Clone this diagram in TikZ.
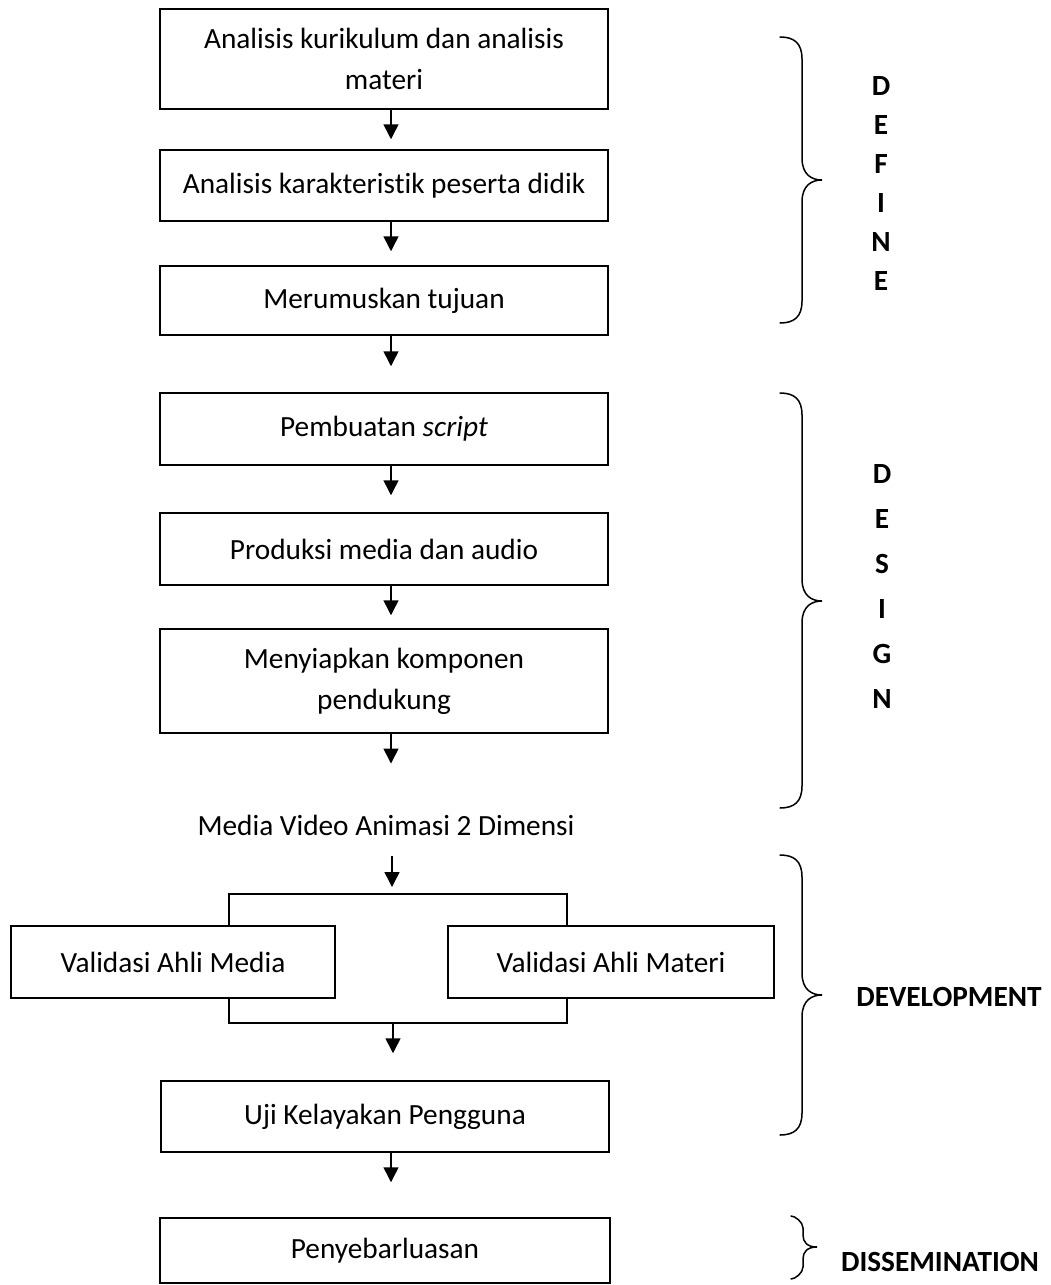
\documentclass[tikz,border=0pt]{standalone}
\usepackage{fontspec}
\setmainfont{Carlito}[Ligatures={TeX,NoCommon}]
\usetikzlibrary{arrows.meta}
\newcommand\mybrace[7]{%
  \draw[bracestyle] (#1,#4) .. controls (#2-8,#4) and (#2,#4+6) .. (#2,#4+#7)
    -- (#2,#5-#7) .. controls (#2,#5-5) and (#3-10,#5) .. (#3,#5)
    .. controls (#3-10,#5) and (#2,#5+5) .. (#2,#5+#7)
    -- (#2,#6-#7) .. controls (#2,#6-6) and (#2-8,#6) .. (#1,#6);}
\begin{document}
\begin{tikzpicture}[x=1pt,y=-1pt,
  txt/.style={font=\fontsize{29.3}{41}\selectfont},
  box/.style={txt,draw,line width=1.5pt,minimum width=448pt,inner sep=0pt,align=center},
  conn/.style={line width=1.5pt},
  arr/.style={conn,-{Triangle[width=15pt,length=15pt]}},
  bracestyle/.style={line width=1.5pt,line cap=round},
  phase/.style={font=\fontsize{29.3}{35}\selectfont\bfseries,inner sep=0pt}]
\useasboundingbox (0,0) rectangle (1051,1285);
% boxes
\node[box,minimum height=100pt] (b1) at (384,59) {Analisis kurikulum dan analisis\\materi};
\node[box,minimum height=71pt] (b2) at (384,185.5) {Analisis karakteristik peserta didik};
\node[box,minimum height=69pt] (b3) at (384,300.5) {Merumuskan tujuan};
\node[box,minimum height=72pt] (b4) at (384,429) {Pembuatan \textit{script}};
\node[box,minimum height=72pt] (b5) at (384,549) {Produksi media dan audio};
\node[box,minimum height=104pt] (b6) at (384,681) {Menyiapkan komponen\\pendukung};
\node[txt,inner sep=0pt] (mv) at (386,825) {Media Video Animasi 2 Dimensi};
\node[box,minimum width=324pt,minimum height=72pt] (vl) at (173,962) {Validasi Ahli Media};
\node[box,minimum width=326pt,minimum height=72pt] (vr) at (611,962) {Validasi Ahli Materi};
\node[box,minimum width=448pt,minimum height=71pt] (uji) at (385,1116.5) {Uji Kelayakan Pengguna};
\node[box,minimum width=450pt,minimum height=65pt] (pen) at (385,1250.5) {Penyebarluasan};
% connectors
\coordinate (ax) at (391,0);
\draw[arr,shorten >=10pt] (b1.south -| ax) -- (b2.north -| ax);
\draw[arr,shorten >=14pt] (b2.south -| ax) -- (b3.north -| ax);
\draw[arr,shorten >=26pt] (b3.south -| ax) -- (b4.north -| ax);
\draw[arr,shorten >=17pt] (b4.south -| ax) -- (b5.north -| ax);
\draw[arr,shorten >=13pt] (b5.south -| ax) -- (b6.north -| ax);
\draw[arr,shorten >=51pt] (b6.south -| ax) -- (mv.north -| ax);
\coordinate (jt) at (392,894);
\draw[arr,shorten <=21pt,shorten >=7pt] (mv.south -| jt) -- (jt);
\coordinate (fl) at (229,894);
\coordinate (fr) at (567,894);
\draw[conn] (vl.north -| fl) -- (fl) -- (fr) -- (vr.north -| fr);
\coordinate (gl) at (229,1023);
\coordinate (gr) at (567,1023);
\draw[conn] (vl.south -| gl) -- (gl) -- (gr) -- (vr.south -| gr);
\coordinate (jb) at (393,1023);
\draw[arr,shorten >=27pt] (jb) -- (uji.north -| jb);
\draw[arr,shorten >=35pt] (uji.south -| ax) -- (pen.north -| ax);
% braces
\mybrace{780}{802}{822}{37}{180}{323}{22}
\mybrace{780}{802}{822}{393}{601}{808}{22}
\mybrace{780}{802}{822}{855}{995}{1135}{22}
\mybrace{791}{803}{817}{1216}{1247}{1279}{12}
% phase labels
\foreach \l [count=\i] in {D,E,F,I,N,E} \node[phase] (def\i) at (881,47+39*\i) {\l};
\foreach \l [count=\i] in {D,E,S,I,G,N} \node[phase] (des\i) at (882,429+45*\i) {\l};
\node[phase] (dev) at (949,997) {DEVELOPMENT};
\node[phase] (dis) at (940,1262) {DISSEMINATION};
\end{tikzpicture}
\end{document}
